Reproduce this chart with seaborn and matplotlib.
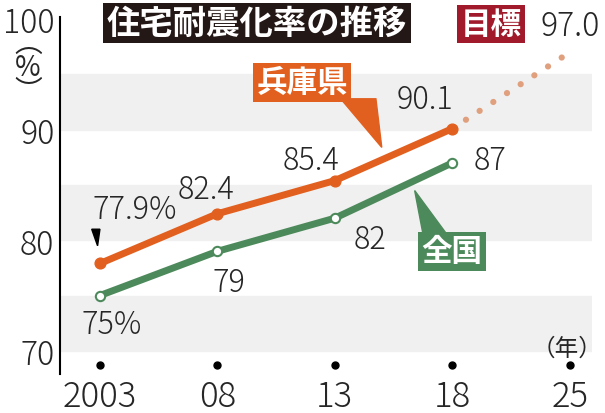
import numpy as np
import seaborn as sns
import matplotlib.pyplot as plt
from matplotlib.patches import Polygon

years = ["2003", "08", "13", "18", "25"]
hyogo = [77.9, 82.4, 85.4, 90.1]
zenkoku = [75, 79, 82, 87]
target = 97.0
hyogo_labels = ["77.9%", "82.4", "85.4", "90.1"]
zenkoku_labels = ["75%", "79", "82", "87"]

sns.set_style("white")
plt.rcParams['font.family'] = ['Noto Sans CJK JP', 'DejaVu Sans']

ORANGE = "#e2601f"
GREEN = "#4d8a5b"
DOT = "#e0a07e"

fig = plt.figure(figsize=(6.05, 4.14), dpi=100)
ax = fig.add_axes([60/605, 1-375/414, 532/605, 357/414])
ax.set_xlim(-0.34, 4.19)
ax.set_ylim(67.9, 100.2)

for lo in (70, 80, 90):
    ax.axhspan(lo, lo + 5, color="#f0f0f0", zorder=0)

x = np.arange(len(hyogo))
sns.lineplot(x=[3, 4], y=[hyogo[-1], target], ax=ax, color=DOT, lw=4.5,
             linestyle=(0, (0.01, 2.6)), dash_capstyle="round", zorder=2)
sns.lineplot(x=x, y=hyogo, ax=ax, color=ORANGE, lw=5, zorder=3)
ax.scatter(x, hyogo, s=60, color=ORANGE, zorder=4, edgecolor=ORANGE)
sns.lineplot(x=x, y=zenkoku, ax=ax, color=GREEN, lw=5, zorder=3)
ax.scatter(x, zenkoku, s=45, color="white", edgecolor=GREEN, lw=1.5, zorder=4)

for spine in ("top", "right", "bottom"):
    ax.spines[spine].set_visible(False)
ax.spines["left"].set_linewidth(1.5)
ax.spines["left"].set_color("black")
ax.set_yticks(np.arange(70, 101, 5))
ax.set_yticklabels(["70", "", "80", "", "90", "", "100"])
ax.tick_params(axis="y", direction="in", length=10, width=1.5, labelsize=23, pad=4)
ax.set_xticks([])
for lab in ax.get_yticklabels():
    lab.set_fontweight("light")

# year markers and labels
ax.scatter(np.arange(len(years)), [68.7] * len(years), s=25, color="black", clip_on=False, zorder=5)
for i, yr in enumerate(years):
    ax.text(i, 65.9, yr, ha="center", va="center", fontsize=25, fontweight="light", clip_on=False)
ax.text(3.98, 69.2, "（年）", ha="center", va="bottom", fontsize=17, clip_on=False)

# value labels
hpos = [(0.3, 82.8), (0.9, 84.6), (1.8, 87.3), (2.77, 92.8)]
zpos = [(0.1, 72.4), (1.1, 76.2), (2.3, 80.1), (3.32, 87.3)]
for (px, py), t in zip(hpos + zpos, hyogo_labels + zenkoku_labels):
    ax.text(px, py, t, ha="center", va="center", fontsize=22, fontweight="light")
ax.add_patch(Polygon([(-0.07, 81.0), (0.0, 81.0), (-0.02, 79.5)], color="black", zorder=5))

# series tags with pointers
ax.add_patch(Polygon([(2.05, 92.8), (2.35, 92.8), (2.4, 88.4)], color=ORANGE, zorder=5))
ax.text(1.72, 94.3, "兵庫県", ha="center", va="center", fontsize=22, fontweight="bold",
        color="white", bbox=dict(boxstyle="square,pad=0.12", fc=ORANGE, ec="none"), zorder=6)
ax.add_patch(Polygon([(2.68, 84.5), (2.75, 80.6), (2.95, 80.6)], color=GREEN, zorder=5))
ax.text(3.0, 79.0, "全国", ha="center", va="center", fontsize=22, fontweight="bold",
        color="white", bbox=dict(boxstyle="square,pad=0.12", fc=GREEN, ec="none"), zorder=6)

# title, target and unit
fig.text(257/605, 1-24/414, "住宅耐震化率の推移", ha="center", va="center", fontsize=24,
         fontweight="bold", color="white",
         bbox=dict(boxstyle="square,pad=0.1", fc="#231815", ec="none"))
fig.text(491/605, 1-25/414, "目標", ha="center", va="center", fontsize=22,
         fontweight="bold", color="white",
         bbox=dict(boxstyle="square,pad=0.1", fc="#a01a2c", ec="none"))
fig.text(570/605, 1-27/414, "97.0", ha="center", va="center", fontsize=23, fontweight="light")
fig.text(28/605, 1-68/414, "︵\n%\n︶", ha="center", va="center", fontsize=20, linespacing=0.75)

fig.savefig("out.png", dpi=100)
